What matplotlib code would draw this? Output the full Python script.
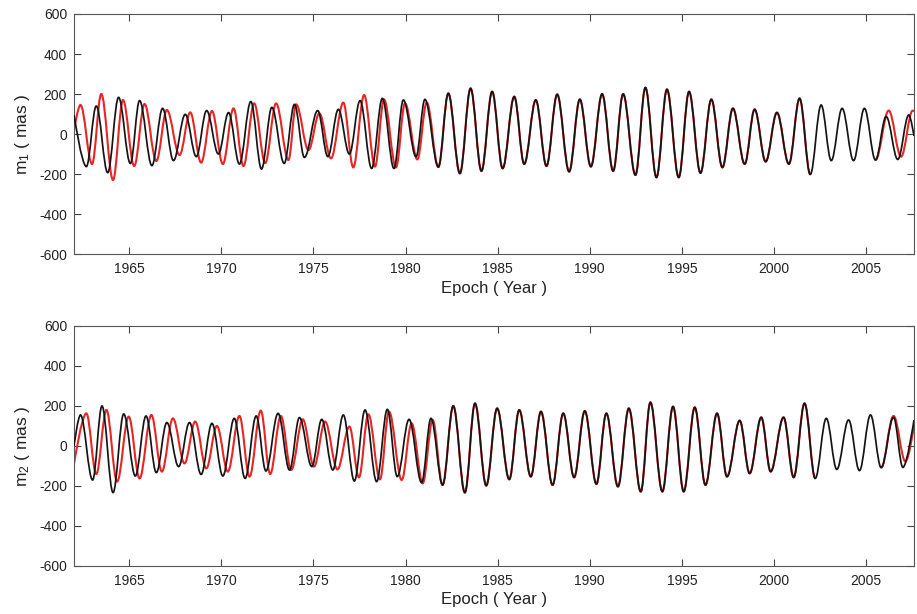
import matplotlib
matplotlib.use("Agg")
import matplotlib.pyplot as plt
from matplotlib.path import Path
from matplotlib.patches import PathPatch

plt.rcParams["font.family"] = ["Liberation Sans", "DejaVu Sans"]
plt.rcParams["axes.unicode_minus"] = False

# m1, black series: extrema (epoch, mas)
m1_black_t = [1962.00, 1962.67, 1963.21, 1963.83, 1964.42, 1965.06, 1965.56, 1966.23, 1966.81,
              1967.40, 1968.04, 1968.64, 1969.20, 1969.84, 1970.39, 1970.98, 1971.60, 1972.18,
              1972.74, 1973.41, 1973.97, 1974.51, 1975.23, 1975.78, 1976.35, 1976.95, 1977.53,
              1978.16, 1978.74, 1979.37, 1979.88, 1980.57, 1981.05, 1981.78, 1982.32, 1982.95,
              1983.53, 1984.12, 1984.70, 1985.27, 1985.90, 1986.44, 1987.07, 1987.65, 1988.23,
              1988.88, 1989.46, 1990.06, 1990.67, 1991.27, 1991.81, 1992.48, 1993.02, 1993.62,
              1994.19, 1994.83, 1995.39, 1996.01, 1996.60, 1997.20, 1997.77, 1998.41, 1998.95,
              1999.55, 2000.16, 2000.81, 2001.39, 2001.97, 2002.56, 2003.11, 2003.70, 2004.32,
              2004.91, 2005.51, 2006.09, 2006.72, 2007.32, 2007.60]
m1_black_v = [95, -163, 140, -193, 183, -147, 167, -158, 128,
              -133, 98, -113, 117, -100, 107, -150, 162, -175,
              133, -147, 148, -117, 117, -113, 123, -100, 167,
              -172, 178, -172, 170, -113, 173, -165, 203, -197,
              228, -185, 212, -172, 187, -150, 170, -160, 198,
              -188, 173, -163, 200, -185, 200, -205, 232, -217,
              223, -217, 212, -195, 173, -167, 128, -150, 123,
              -138, 107, -150, 178, -202, 145, -133, 128, -133,
              128, -130, 87, -127, 95, -10]

# m1, red series before it joins the black one, and after the gap
m1_red_early_t = [1962.00, 1962.35, 1962.98, 1963.48, 1964.12, 1964.66, 1965.27, 1965.83, 1966.47,
                  1967.04, 1967.73, 1968.31, 1968.90, 1969.49, 1970.08, 1970.66, 1971.20, 1971.78,
                  1972.38, 1972.97, 1973.64, 1974.06, 1974.73, 1975.32, 1975.95, 1976.62, 1977.16,
                  1977.75, 1978.34, 1978.83, 1979.48, 1979.97, 1980.64, 1981.15]
m1_red_early_v = [20, 145, -150, 200, -230, 170, -160, 150, -135,
                  120, -105, 108, -143, 115, -150, 128, -160, 153,
                  -145, 153, -130, 148, -80, 103, -122, 157, -167,
                  195, -163, 173, -167, 153, -127, 157]
m1_red_join = (1981.78, 2001.97)
m1_red_late_t = [2005.51, 2006.23, 2006.90, 2007.53, 2007.60]
m1_red_late_v = [-130, 117, -113, 117, 112]

# m2, black series
m2_black_t = [1962.00, 1962.35, 1963.01, 1963.52, 1964.12, 1964.70, 1965.33, 1965.91, 1966.47,
              1967.04, 1967.68, 1968.27, 1968.90, 1969.49, 1970.08, 1970.70, 1971.29, 1971.89,
              1972.42, 1973.08, 1973.70, 1974.24, 1974.91, 1975.45, 1976.05, 1976.62, 1977.22,
              1977.80, 1978.43, 1979.01, 1979.55, 1980.19, 1980.87, 1981.38, 1982.01, 1982.59,
              1983.22, 1983.77, 1984.38, 1984.97, 1985.63, 1986.17, 1986.80, 1987.35, 1987.98,
              1988.56, 1989.15, 1989.73, 1990.36, 1990.90, 1991.53, 1992.12, 1992.77, 1993.29,
              1993.94, 1994.52, 1995.10, 1995.70, 1996.28, 1996.91, 1997.45, 1998.14, 1998.68,
              1999.31, 1999.82, 2000.52, 2001.07, 2001.66, 2002.24, 2002.84, 2003.41, 2004.05,
              2004.64, 2005.24, 2005.82, 2006.49, 2007.00, 2007.60]
m2_black_v = [0, 155, -170, 200, -233, 160, -150, 150, -133,
              117, -103, 117, -142, 113, -150, 138, -162, 150,
              -125, 163, -120, 142, -103, 133, -120, 155, -175,
              180, -178, 183, -153, 133, -183, 138, -195, 200,
              -233, 213, -198, 188, -167, 180, -153, 172, -195,
              163, -157, 175, -190, 163, -203, 188, -228, 218,
              -228, 197, -228, 193, -195, 163, -153, 127, -137,
              143, -128, 143, -157, 213, -162, 138, -117, 130,
              -123, 155, -108, 143, -107, 130]

m2_red_early_t = [1962.00, 1962.67, 1963.21, 1963.76, 1964.34, 1964.97, 1965.56, 1966.20, 1966.77,
                  1967.37, 1968.00, 1968.58, 1969.18, 1969.76, 1970.35, 1970.98, 1971.53, 1972.14,
                  1972.65, 1973.23, 1973.79, 1974.42, 1975.03, 1975.63, 1976.30, 1976.95, 1977.47,
                  1977.98, 1978.61, 1979.10, 1979.79, 1980.33, 1980.93, 1981.47]
m2_red_early_v = [-90, 163, -140, 180, -178, 147, -162, 155, -128,
                  138, -87, 122, -112, 100, -128, 150, -153, 177,
                  -140, 150, -120, 133, -103, 122, -117, 97, -157,
                  158, -167, 172, -170, 113, -187, 130]
m2_red_join = (1982.01, 2002.24)
m2_red_late_t = [2005.82, 2006.49, 2007.14, 2007.60]
m2_red_late_v = [-108, 150, -78, 100]

x_ticks = [1965, 1970, 1975, 1980, 1985, 1990, 1995, 2000, 2005]
y_ticks = [-600, -400, -200, 0, 200, 400, 600]

RED = "#e82525"
BLACK = "#151515"
K = 0.3634  # bezier handle length for a half-sine between extrema


def wave_path(t, v, open_start=True, open_end=True):
    verts = [(t[0], v[0])]
    codes = [Path.MOVETO]
    n = len(t)
    for i in range(1, n):
        dt = t[i] - t[i - 1]
        k0 = 0 if (i == 1 and open_start) else K
        k1 = 0 if (i == n - 1 and open_end) else K
        verts += [(t[i - 1] + k0 * dt, v[i - 1]), (t[i] - k1 * dt, v[i]), (t[i], v[i])]
        codes += [Path.CURVE4] * 3
    return Path(verts, codes)


def red_segments(black_t, black_v, early_t, early_v, join, late_t, late_v):
    i0 = black_t.index(join[0])
    i1 = black_t.index(join[1]) + 1
    first_t = early_t + black_t[i0:i1]
    first_v = early_v + black_v[i0:i1]
    return [(first_t, first_v, True, False), (late_t, late_v, False, True)]


fig = plt.figure(figsize=(9.17, 6.14), dpi=100)
ax1 = fig.add_axes([0.0807, 0.5863, 0.9160, 0.3909])
ax2 = fig.add_axes([0.0807, 0.0782, 0.9160, 0.3909])

panels = [
    (ax1, m1_black_t, m1_black_v, m1_red_early_t, m1_red_early_v, m1_red_join,
     m1_red_late_t, m1_red_late_v, r"$\mathregular{m_1}$ ( mas )"),
    (ax2, m2_black_t, m2_black_v, m2_red_early_t, m2_red_early_v, m2_red_join,
     m2_red_late_t, m2_red_late_v, r"$\mathregular{m_2}$ ( mas )"),
]

for ax, bt, bv, ret, rev, join, rlt, rlv, ylab in panels:
    for t, v, os_, oe in red_segments(bt, bv, ret, rev, join, rlt, rlv):
        ax.add_patch(PathPatch(wave_path(t, v, os_, oe), fill=False,
                               edgecolor=RED, linewidth=1.5, zorder=2))
    ax.add_patch(PathPatch(wave_path(bt, bv), fill=False,
                           edgecolor=BLACK, linewidth=1.25, zorder=3))

    ax.set_xlim(1962.0, 2007.6)
    ax.set_ylim(-600, 600)
    ax.set_xticks(x_ticks)
    ax.set_yticks(y_ticks)
    ax.tick_params(direction="in", top=True, right=True, length=5, width=0.8,
                   labelsize=10, colors="#444444", labelcolor="#222222")
    ax.tick_params(axis="x", pad=6)
    ax.tick_params(axis="y", pad=5)
    for sp in ax.spines.values():
        sp.set_color("#555555")
        sp.set_linewidth(0.8)
    ax.set_xlabel("Epoch ( Year )", fontsize=12, color="#222222", labelpad=3)
    ax.set_ylabel(ylab, fontsize=12.5, color="#222222", labelpad=5)

fig.savefig("out.png", dpi=100)
